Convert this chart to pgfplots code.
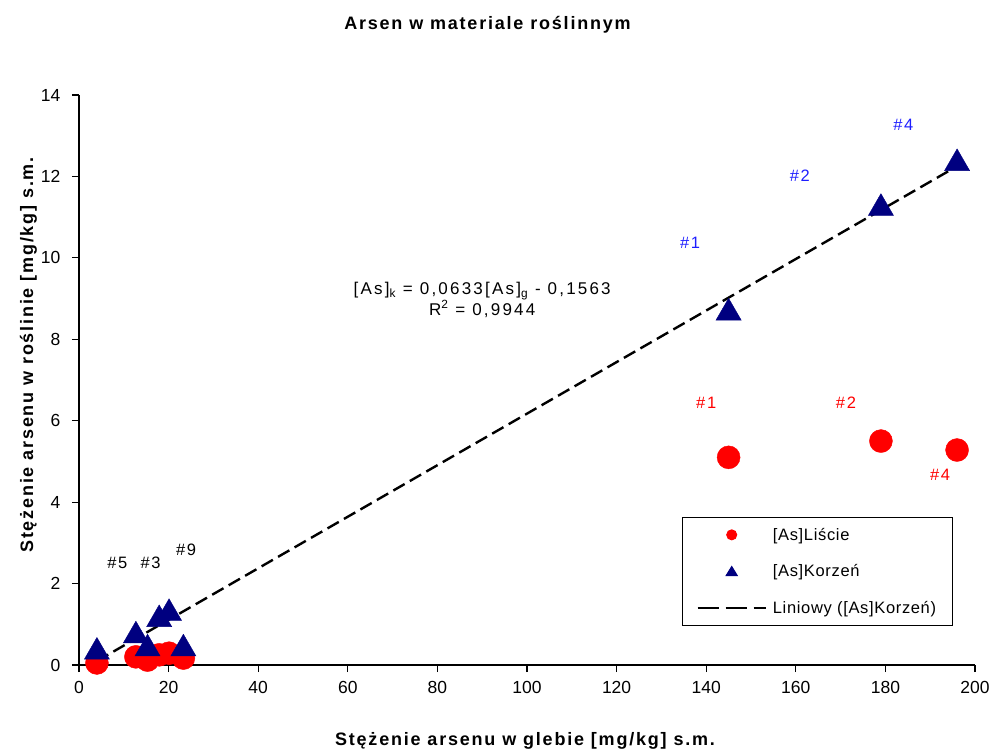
\documentclass[border=0pt]{standalone}
\usepackage{pgfplots}
\pgfplotsset{compat=1.18}
\usepackage{fontspec}
\setmainfont{Liberation Sans}
\definecolor{navyk}{RGB}{0,0,128}
\definecolor{lblue}{RGB}{30,30,255}
\begin{document}
\begin{tikzpicture}
\useasboundingbox (-79pt,-84pt) rectangle (913pt,665pt);
\begin{axis}[
  at={(0pt,0pt)}, anchor=south west,
  scale only axis, width=896pt, height=570pt,
  xmin=0, xmax=200, ymin=0, ymax=14,
  xtick={0,20,...,200}, ytick={0,2,...,14},
  axis x line*=bottom, axis y line*=left,
  axis line style={-, line width=1.1pt, black},
  tick align=outside, major tick length=7pt,
  tick style={line width=1.1pt, black},
  ticklabel style={font=\fontsize{17.5}{20}\selectfont},
  xticklabel style={yshift=-6pt},
  yticklabel style={xshift=-8pt},
  /pgf/number format/assume math mode=true,
  clip=false,
  legend cell align=left,
  legend style={at={(rel axis cs:0.673,0.2596)}, anchor=north west, draw=black, line width=1pt, fill=white,
    font=\fontsize{16.5}{19}\selectfont\addfontfeature{LetterSpace=4}, inner xsep=14pt, inner ysep=8.5pt, row sep=19pt,
    /tikz/every odd column/.append style={column sep=4pt}},
]
\addplot[only marks, mark=*, mark size=11.5pt, color=red, mark options={fill=red, draw=red},
  legend image code/.code={\path[draw=none,fill=none] (0pt,-6pt) rectangle (68pt,6pt); \fill[red] (34pt,0pt) circle (5pt);}]
  coordinates {(4,0.05) (12.7,0.2) (15.3,0.12) (17.9,0.25) (20.1,0.29) (23.3,0.17) (145,5.1) (179,5.5) (196,5.28)};
\addlegendentry{[As]Liście}
\addplot[only marks, mark=triangle*, mark size=14.5pt, color=navyk, mark options={fill=navyk, draw=navyk},
  legend image code/.code={\path[draw=none,fill=none] (0pt,-6pt) rectangle (68pt,6pt); \fill[navyk] (34pt,5pt) -- (28.5pt,-4pt) -- (39.5pt,-4pt) -- cycle;}]
  coordinates {(4,0.32) (12.7,0.72) (15.3,0.4) (17.9,1.12) (20.1,1.27) (23.3,0.4) (145,8.65) (179,11.22) (196,12.32)};
\addlegendentry{[As]Korzeń}
\addplot[black, line width=2.4pt, dash pattern=on 13pt off 6pt,
  legend image code/.code={\draw[black, line width=2.4pt, dash pattern=on 21pt off 7pt] (0pt,0pt) -- (68pt,0pt);}]
  coordinates {(4,0.0969) (196,12.2505)};
\addlegendentry{Liniowy ([As]Korzeń)}
% annotations
\node[lblue, font=\fontsize{16.5}{19}\selectfont\addfontfeature{LetterSpace=10}] at (axis cs:136.4,10.36) {\#1};
\node[lblue, font=\fontsize{16.5}{19}\selectfont\addfontfeature{LetterSpace=10}] at (axis cs:160.9,12.01) {\#2};
\node[lblue, font=\fontsize{16.5}{19}\selectfont\addfontfeature{LetterSpace=10}] at (axis cs:184,13.27) {\#4};
\node[red, font=\fontsize{16.5}{19}\selectfont\addfontfeature{LetterSpace=10}] at (axis cs:140,6.44) {\#1};
\node[red, font=\fontsize{16.5}{19}\selectfont\addfontfeature{LetterSpace=10}] at (axis cs:171.2,6.44) {\#2};
\node[red, font=\fontsize{16.5}{19}\selectfont\addfontfeature{LetterSpace=10}] at (axis cs:192.2,4.67) {\#4};
\node[black, font=\fontsize{16.5}{19}\selectfont\addfontfeature{LetterSpace=10}] at (axis cs:8.55,2.5) {\#5};
\node[black, font=\fontsize{16.5}{19}\selectfont\addfontfeature{LetterSpace=10}] at (axis cs:16.0,2.5) {\#3};
\node[black, font=\fontsize{16.5}{19}\selectfont\addfontfeature{LetterSpace=10}] at (axis cs:23.9,2.84) {\#9};
\node[align=center, font=\fontsize{17}{19.5}\selectfont\addfontfeature{LetterSpace=13}] at (axis cs:90,8.97)
  {[As]\textsubscript{k} = 0,0633[As]\textsubscript{g} - 0,1563\\R\textsuperscript{2} = 0,9944};
\end{axis}
\node[anchor=base, font=\fontsize{18}{21}\selectfont\bfseries\addfontfeature{LetterSpace=10}] at (408.5pt,635pt) {Arsen w materiale roślinnym};
\node[anchor=base, font=\fontsize{18}{21}\selectfont\bfseries\addfontfeature{LetterSpace=10}] at (446pt,-80pt) {Stężenie arsenu w glebie [mg/kg] s.m.};
\node[anchor=base, rotate=90, font=\fontsize{18}{21}\selectfont\bfseries\addfontfeature{LetterSpace=10}] at (-46pt,310pt) {Stężenie arsenu w roślinie [mg/kg] s.m.};
\end{tikzpicture}
\end{document}
